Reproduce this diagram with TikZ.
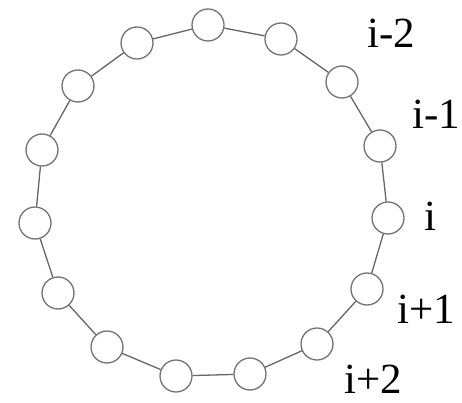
\documentclass[tikz,border=0pt]{standalone}
\usepackage{fontspec}
\setmainfont{Liberation Serif}
\usepackage{tikz}
\pgfdeclarelayer{edgelayer}
\pgfdeclarelayer{nodelayer}
\pgfsetlayers{edgelayer,nodelayer,main}
\tikzstyle{edge}=[draw=black!60, line width=1.3pt]
\tikzstyle{vertex}=[circle, fill=white, draw=black!55, line width=1.3pt, minimum size=32pt, inner sep=0pt]
\tikzstyle{tag}=[anchor=base west, inner sep=0pt, text depth=0pt, font=\fontsize{43}{50}\selectfont]

\begin{document}
\begin{tikzpicture}[x=1pt, y=-1pt]
	\useasboundingbox (0, 0) rectangle (462, 403);
	\begin{pgfonlayer}{nodelayer}
		\node [style=vertex] (1) at (208, 25) {};
		\node [style=vertex] (2) at (281, 39) {};
		\node [style=vertex] (3) at (342, 82) {};
		\node [style=vertex] (4) at (380, 146) {};
		\node [style=vertex] (5) at (388, 218) {};
		\node [style=vertex] (6) at (367, 289) {};
		\node [style=vertex] (7) at (317, 344) {};
		\node [style=vertex] (8) at (250, 374) {};
		\node [style=vertex] (9) at (176, 376) {};
		\node [style=vertex] (10) at (107, 347) {};
		\node [style=vertex] (11) at (58, 293) {};
		\node [style=vertex] (12) at (35, 223) {};
		\node [style=vertex] (13) at (42, 150) {};
		\node [style=vertex] (14) at (78, 86) {};
		\node [style=vertex] (15) at (137, 43) {};
		\node [style=tag] (im2) at (367, 48) {i-2};
		\node [style=tag] (im1) at (412, 129) {i-1};
		\node [style=tag] (i0) at (424, 230) {i};
		\node [style=tag] (ip1) at (397, 323) {i+1};
		\node [style=tag] (ip2) at (344, 393) {i+2};
	\end{pgfonlayer}
	\begin{pgfonlayer}{edgelayer}
		\draw [style=edge] (1) to (2);
		\draw [style=edge] (2) to (3);
		\draw [style=edge] (3) to (4);
		\draw [style=edge] (4) to (5);
		\draw [style=edge] (5) to (6);
		\draw [style=edge] (6) to (7);
		\draw [style=edge] (7) to (8);
		\draw [style=edge] (8) to (9);
		\draw [style=edge] (9) to (10);
		\draw [style=edge] (10) to (11);
		\draw [style=edge] (11) to (12);
		\draw [style=edge] (12) to (13);
		\draw [style=edge] (13) to (14);
		\draw [style=edge] (14) to (15);
		\draw [style=edge] (15) to (1);
	\end{pgfonlayer}
\end{tikzpicture}
\end{document}
